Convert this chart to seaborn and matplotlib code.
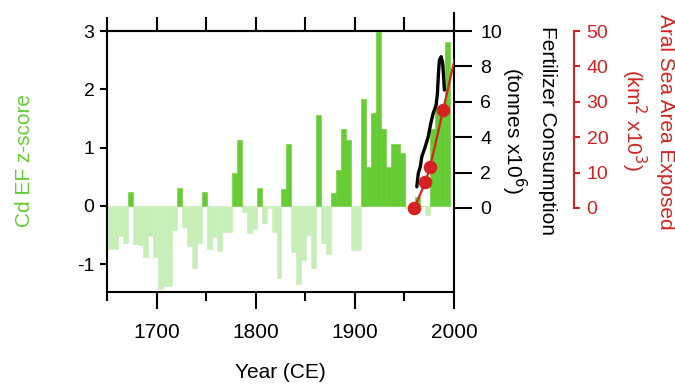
import matplotlib
matplotlib.use('Agg')
import matplotlib.pyplot as plt
import numpy as np
import pandas as pd
import seaborn as sns

sns.set_style('ticks')
plt.rcParams['font.family'] = ['Liberation Sans', 'DejaVu Sans']
plt.rcParams['axes.linewidth'] = 1.5
plt.rcParams['axes.unicode_minus'] = False
for k in ['text.color', 'axes.edgecolor', 'xtick.color', 'ytick.color', 'axes.labelcolor']:
    plt.rcParams[k] = 'black'

green = '#66cc33'
light_green = '#c8eeb8'
red = '#d42222'

# Cd EF z-score, 5-year bins starting 1651
bin_start = np.arange(1651, 1996, 5)
zscore = [-0.74, -0.74, -0.51, -0.64, 0.235, -0.66, -0.67, -0.87, -0.52, -0.87,
          -1.43, -1.38, -1.38, -0.41, 0.31, -0.36, -0.68, -1.07, -0.63, 0.24,
          -0.73, -0.53, -0.78, -0.44, -0.44, 0.57, 1.13, -0.10, -0.46, -0.40,
          0.31, -0.30, -0.04, -0.44, -1.23, 0.29, 1.07, -0.79, -1.34, -0.93,
          -0.49, -1.07, 1.56, -0.63, -0.83, 0.23, 0.62, 1.32, 1.13, -0.76,
          -0.76, 1.84, 0.67, 1.59, 2.98, 1.32, 0.66, 1.06, 1.06, 0.91,
          -0.04, -0.02, 0.16, 0.0, -0.15, 1.32, 1.72, 1.72, 2.81]

# fertilizer consumption (tonnes x10^6)
fert_year = [1962.5, 1964, 1966, 1967.5, 1971, 1974, 1976.6, 1979, 1982, 1983.3,
             1984.3, 1985.3, 1987, 1988.6, 1989.3, 1990.3]
fert_val = [1.20, 1.96, 2.33, 2.9, 3.46, 4.03, 4.79, 5.35, 5.82, 6.48,
            7.61, 8.36, 8.55, 8.18, 7.6, 6.67]

# Aral Sea area exposed (km^2 x10^3)
aral_year = [1960, 1971, 1976, 1989, 2007]
aral_val = [0, 7.2, 11.7, 27.6, 50]

df = pd.DataFrame({'year': bin_start + 2.5, 'z': zscore})
df['sign'] = np.where(df['z'] >= 0, 'pos', 'neg')

fig = plt.figure(figsize=(6.75, 3.84), dpi=100)
W, H = 675, 384
box = [107 / W, 92 / H, 347 / W, 261 / H]
box2 = [107 / W, 92 / H, 347 / W, 279 / H]
ax = fig.add_axes(box)
ax2 = fig.add_axes(box2)
ax3 = fig.add_axes(box2)

sns.barplot(data=df, x='year', y='z', hue='sign', palette={'pos': green, 'neg': light_green},
            native_scale=True, width=1, saturation=1, dodge=False, legend=False,
            linewidth=0, ax=ax)
for p in ax.patches:
    p.set_edgecolor(p.get_facecolor())
    p.set_linewidth(0.4)
ax.set_xlim(1650, 2000)
ax.set_ylim(-1.475, 3.0)
ax.set_yticks([-1, 0, 1, 2, 3])
ax.set_xticks([1700, 1800, 1900, 2000])
ax.set_xticks([1650, 1750, 1850, 1950], minor=True)
ax.set_xlabel('')
ax.set_ylabel('')
ax.spines['right'].set_visible(False)
ax.tick_params(axis='y', labelsize=14, length=5, width=1.5, pad=4)
ax.tick_params(axis='x', which='major', labelsize=15, length=12, width=1.5, pad=10)
ax.tick_params(axis='x', which='minor', length=6.5, width=1.5)
sec = ax.secondary_xaxis('top')
sec.set_xticks(np.arange(1650, 2001, 50))
sec.tick_params(length=10, width=1.5, labeltop=False)
sec.spines['top'].set_linewidth(1.5)

# fertilizer axis
ax2.set_facecolor('none')
for s in ['left', 'top', 'bottom']:
    ax2.spines[s].set_visible(False)
sns.lineplot(x=fert_year, y=fert_val, color='black', linewidth=2.4, sort=False,
             estimator=None, ax=ax2)
ax2.set_xlim(1650, 2000)
ax2.set_ylim(-4.75, 11.02)
ax2.set_xticks([])
ax2.yaxis.tick_right()
ax2.set_yticks([0, 2, 4, 6, 8, 10])
ax2.tick_params(axis='y', labelsize=14, length=13, width=1.5, pad=6)

# Aral sea axis
ax3.set_facecolor('none')
for s in ['left', 'top', 'bottom']:
    ax3.spines[s].set_visible(False)
sns.lineplot(x=aral_year, y=aral_val, color=red, linewidth=1.6, marker='o',
             markersize=9, markeredgecolor=red, sort=False, estimator=None, ax=ax3)
ax3.set_xlim(1650, 2000)
ax3.set_ylim(-23.75, 55.1)
ax3.set_xticks([])
ax3.yaxis.tick_right()
ax3.spines['right'].set_position(('axes', 467 / 347))
ax3.spines['right'].set_bounds(0, 50)
ax3.spines['right'].set_color(red)
ax3.set_yticks([0, 10, 20, 30, 40, 50])
ax3.tick_params(axis='y', labelsize=14, length=4, width=1.5, pad=5, colors=red)

fig.text(25 / W, 1 - 160 / H, 'Cd EF z-score', color=green, fontsize=15,
         rotation=90, ha='center', va='center')
fig.text(280 / W, 1 - 373 / H, 'Year (CE)', fontsize=15, ha='center', va='center')
fig.text(547 / W, 1 - 130 / H, 'Fertilizer Consumption', fontsize=15,
         rotation=270, ha='center', va='center')
fig.text(514 / W, 1 - 130 / H, r'(tonnes x10$^6$)', fontsize=15,
         rotation=270, ha='center', va='center')
fig.text(666 / W, 1 - 122 / H, 'Aral Sea Area Exposed', fontsize=15, color=red,
         rotation=270, ha='center', va='center')
fig.text(634 / W, 1 - 120 / H, r'(km$^2$ x10$^3$)', fontsize=15, color=red,
         rotation=270, ha='center', va='center')

fig.savefig('out.png', dpi=100)
